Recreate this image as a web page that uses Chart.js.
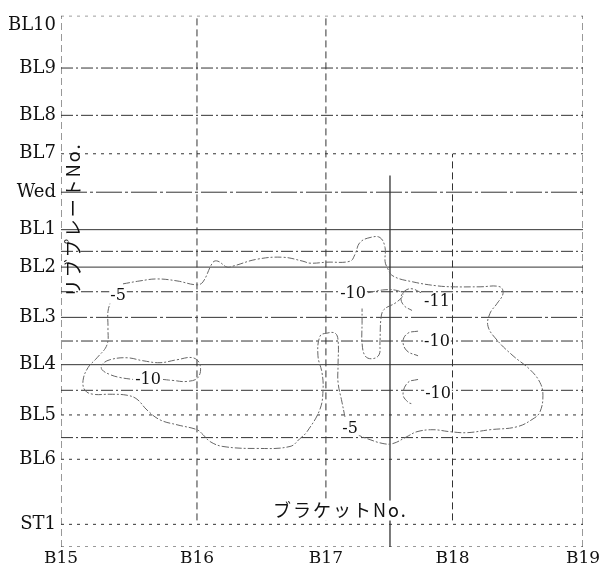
<!DOCTYPE html>
<html>
<head>
<meta charset="utf-8">
<script src="https://cdn.jsdelivr.net/npm/chart.js@4.4.1/dist/chart.umd.min.js"></script>
<style>
html, body { margin: 0; padding: 0; background: #fff; }
#wrap { width: 603px; height: 569px; }
</style>
</head>
<body>
<div id="wrap"><canvas id="c" width="603" height="569"></canvas></div>
<script>
// tick labels (bracket No. across, rib plate No. up)
const xTickLabels = ["B15", "B16", "B17", "B18", "B19"];
const xTickValues = [0, 1.042, 2.03, 3.0, 4];
const yTickLabels = ["ST1", "BL6", "BL5", "BL4", "BL3", "BL2", "BL1", "Wed", "BL7", "BL8", "BL9", "BL10"];
const yTickValues = [2.3, 8.9, 13.4, 18.5, 23.3, 28.4, 32.2, 36.0, 39.9, 43.8, 48.6, 52.9];

// frame lines
const hLineY    = [53.9, 48.6, 43.8, 39.9, 36.0, 32.2, 30.0, 28.4, 25.9, 23.3, 20.9, 18.5, 15.9, 13.4, 11.1, 8.9, 2.3, 0];
const hLineKind = ["dot", "dashdot", "dashdot", "dot", "long", "solid", "dashdot", "solid", "dashdot", "long",
                   "dashdot", "solid", "dashdot", "dot", "dashdot", "dot", "dot", "dot"];
const vLineX    = [0, 1.042, 2.03, 3.0, 4];
const vLineFrom = [0, 2.7, 2.7, 2.7, 0];
const vLineTo   = [53.9, 53.9, 53.9, 39.9, 53.9];
const markX = 2.521;           // solid vertical line
const markY = [0, 37.7];

// contour -5 (two pieces, broken at the labels)
const c5a = [[0.475,26.7],[0.605,27.0],[0.736,27.2],[0.889,27.0],[1.042,26.6],[1.088,26.9],[1.165,28.9],[1.203,29.0],
  [1.272,28.4],[1.318,28.5],[1.502,29.2],[1.701,29.4],[1.854,29.0],[1.908,28.8],[2.038,28.9],[2.215,29.0],[2.253,29.7],
  [2.291,30.9],[2.368,31.4],[2.444,31.4],[2.483,30.4],[2.483,29.0],[2.498,28.4],[2.544,27.5],[2.697,26.9],[2.881,26.5],
  [3.004,26.4],[3.211,26.4],[3.364,26.4],[3.387,25.7],[3.341,24.7],[3.287,23.7],[3.272,22.4],[3.341,21.0],[3.464,19.4],
  [3.594,18.0],[3.670,16.7],[3.693,15.4],[3.670,13.7],[3.617,13.0],[3.494,12.2],[3.287,11.9],[3.111,11.6],[2.981,11.7],
  [2.851,11.9],[2.728,11.7],[2.651,11.2],[2.544,10.5],[2.467,10.5],[2.345,11.0],[2.268,11.4]];
const c5b = [[2.176,13.2],[2.153,14.7],[2.123,16.7],[2.123,18.4],[2.123,21.0],[2.100,21.7],[2.038,21.7],[1.985,21.4],
  [1.969,19.4],[2.000,17.7],[2.008,16.0],[1.985,14.0],[1.885,11.7],[1.831,11.0],[1.755,10.2],[1.502,10.0],[1.241,10.2],
  [1.142,10.7],[1.088,11.4],[1.042,11.9],[0.889,12.4],[0.759,12.9],[0.659,13.9],[0.582,15.0],[0.506,15.4],[0.375,15.5],
  [0.245,15.5],[0.184,15.9],[0.169,16.9],[0.207,18.2],[0.276,19.2],[0.352,20.5],[0.360,22.2],[0.360,23.9],[0.383,25.0]];
// contour -10 / -11
const c10left = [[0.782,17.0],[0.858,16.9],[0.966,16.8],[1.050,17.2],[1.065,18.5],[1.011,19.2],[0.889,19.0],[0.759,18.7],
  [0.628,18.9],[0.506,19.2],[0.375,19.0],[0.314,18.5],[0.314,18.0],[0.375,17.5],[0.452,17.2],[0.552,17.0]];
const c10top = [[2.352,25.8],[2.483,26.1],[2.582,26.0],[2.621,25.6],[2.567,24.8],[2.475,24.1],[2.452,23.2],[2.444,20.7],
  [2.437,19.5],[2.383,19.1],[2.330,19.4],[2.307,20.7],[2.307,22.7],[2.307,24.2]];
const c11 = [[2.759,25.8],[2.690,26.2],[2.636,26.0],[2.605,25.3],[2.628,24.5],[2.690,24.0]];
const c10mid = [[2.736,21.9],[2.659,21.7],[2.621,20.9],[2.651,19.9],[2.736,19.4]];
const c10low = [[2.736,17.0],[2.659,16.7],[2.621,15.5],[2.659,14.7],[2.697,14.5]];

// contour labels
const contourText = ["-5", "-5", "-10", "-10", "-11", "-10", "-10"];
const contourX = [0.437, 2.215, 0.667, 2.238, 2.881, 2.881, 2.889];
const contourY = [25.5, 12.0, 17.0, 25.7, 24.9, 20.8, 15.5];

const dashes = { solid: [], dashdot: [12, 3, 2, 3], long: [26, 3, 3, 3], dot: [3, 5] };

const datasets = [];
[c5a, c5b, c10left, c10top, c11, c10mid, c10low].forEach(c => {
    datasets.push({
        data: c.map(p => ({ x: p[0], y: p[1] })),
        showLine: true, pointRadius: 0, tension: 0.4,
        borderColor: "#666", borderWidth: 1, borderDash: [7, 2, 2, 2]
    });
});
hLineY.forEach((y, i) => {
    datasets.push({
        data: [{ x: 0, y: y }, { x: 4, y: y }],
        showLine: true, pointRadius: 0,
        borderColor: "#333", borderWidth: 1, borderDash: dashes[hLineKind[i]]
    });
});
vLineX.forEach((x, i) => {
    datasets.push({
        data: [{ x: x, y: vLineFrom[i] }, { x: x, y: vLineTo[i] }],
        showLine: true, pointRadius: 0,
        borderColor: "#333", borderWidth: 1, borderDash: [7, 4]
    });
});
datasets.push({
    data: markY.map(y => ({ x: markX, y: y })),
    showLine: true, pointRadius: 0, borderColor: "#222", borderWidth: 1.2
});

// texts inside the frame
const textPlugin = {
    id: "texts",
    afterDatasetsDraw(chart) {
        const ctx = chart.ctx, sx = chart.scales.x, sy = chart.scales.y;
        ctx.save();
        ctx.font = "16px 'DejaVu Serif'";
        ctx.textAlign = "center";
        ctx.textBaseline = "middle";
        contourText.forEach((t, i) => {
            const px = sx.getPixelForValue(contourX[i]), py = sy.getPixelForValue(contourY[i]);
            const w = ctx.measureText(t).width;
            ctx.fillStyle = "#fff";
            ctx.fillRect(px - w / 2 - 1, py - 8, w + 2, 16);
            ctx.fillStyle = "#111";
            ctx.fillText(t, px, py);
        });
        // axis titles
        ctx.font = "18px 'Noto Sans CJK JP'";
        ctx.letterSpacing = "2px";
        ctx.fillStyle = "#fff";
        const xt = "ブラケットNo.";
        const xw = ctx.measureText(xt).width;
        const tx = sx.getPixelForValue(2.14), ty = sy.getPixelForValue(3.7);
        ctx.fillRect(tx - xw / 2, ty - 10, xw, 20);
        ctx.fillStyle = "#111";
        ctx.fillText(xt, tx, ty);
        ctx.translate(sx.getPixelForValue(0.092), sy.getPixelForValue(33.2));
        ctx.rotate(-Math.PI / 2);
        ctx.fillText("リブプレートNo.", 0, 0);
        ctx.restore();
    }
};

new Chart(document.getElementById("c"), {
    type: "scatter",
    data: { datasets: datasets },
    options: {
        responsive: false,
        animation: false,
        layout: { padding: { top: 8, right: 20, left: 0, bottom: 0 } },
        plugins: { legend: { display: false }, tooltip: { enabled: false } },
        scales: {
            x: {
                type: "linear", min: 0, max: 4,
                afterBuildTicks: s => { s.ticks = xTickValues.map(v => ({ value: v })); },
                afterFit: s => { s.height = 22; },
                ticks: {
                    autoSkip: false, maxRotation: 0, padding: 1, color: "#111",
                    font: { family: "DejaVu Serif", size: 17 },
                    callback: (v, i) => xTickLabels[i]
                },
                grid: { display: false, drawTicks: false },
                border: { display: false }
            },
            y: {
                type: "linear", min: 0, max: 53.9,
                afterBuildTicks: s => { s.ticks = yTickValues.map(v => ({ value: v })); },
                afterFit: s => { s.width = 61; },
                ticks: {
                    autoSkip: false, padding: 5, color: "#111",
                    font: { family: "DejaVu Serif", size: 18 },
                    callback: (v, i) => yTickLabels[i]
                },
                grid: { display: false, drawTicks: false },
                border: { display: false }
            }
        }
    },
    plugins: [textPlugin]
});
</script>
</body>
</html>
